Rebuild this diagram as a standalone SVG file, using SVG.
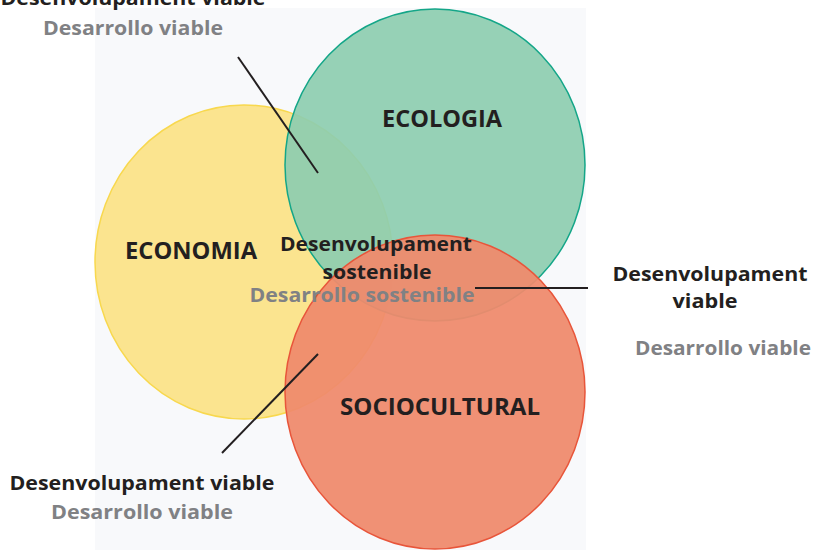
<svg xmlns="http://www.w3.org/2000/svg" width="816" height="550" viewBox="0 0 816 550">
<style>
.t{font-family:"Open Sans","Liberation Sans",sans-serif;font-weight:bold;text-anchor:middle}
.k{fill:#231f20}
.g{fill:#808184}
.big{font-size:24px}
.sm{font-size:20px}
.ln{stroke:#231f20;stroke-width:2;fill:none}
</style>
<rect x="0" y="0" width="816" height="550" fill="#ffffff"/>
<rect x="95" y="8" width="491" height="542" fill="#f8f9fb"/>
<g id="economia">
<ellipse cx="244" cy="262" rx="149" ry="157" fill="#fbe48f" stroke="#f8d84e" stroke-width="1.5"/>
</g>
<g id="ecologia">
<ellipse cx="435" cy="165" rx="150" ry="156" fill="#8dcdb0" fill-opacity="0.92" stroke="#14a688" stroke-width="1.5"/>
</g>
<g id="sociocultural">
<ellipse cx="435" cy="392" rx="150" ry="157" fill="#ef8a6c" fill-opacity="0.94" stroke="#e8553a" stroke-width="1.5"/>
</g>
<g id="connectors">
<line class="ln" x1="238" y1="57" x2="318" y2="173"/>
<line class="ln" x1="318" y1="354" x2="222" y2="453"/>
<line class="ln" x1="475" y1="288" x2="588" y2="288"/>
</g>
<g id="labels">
<text class="t k big" x="442" y="127" textLength="120" lengthAdjust="spacingAndGlyphs">ECOLOGIA</text>
<text class="t k big" x="191" y="259" textLength="132" lengthAdjust="spacingAndGlyphs">ECONOMIA</text>
<text class="t k big" x="440" y="415" textLength="200" lengthAdjust="spacingAndGlyphs">SOCIOCULTURAL</text>
</g>
<g id="center">
<text class="t k sm" x="376" y="251" textLength="192" lengthAdjust="spacingAndGlyphs">Desenvolupament</text>
<text class="t k sm" x="377" y="279" textLength="109" lengthAdjust="spacingAndGlyphs">sostenible</text>
<text class="t g sm" x="362" y="302" textLength="225" lengthAdjust="spacingAndGlyphs">Desarrollo sostenible</text>
</g>
<g id="top-left">
<text class="t k sm" x="133" y="5" textLength="265" lengthAdjust="spacingAndGlyphs">Desenvolupament viable</text>
<text class="t g sm" x="133" y="35" textLength="180" lengthAdjust="spacingAndGlyphs">Desarrollo viable</text>
</g>
<g id="right">
<text class="t k sm" x="710" y="281" textLength="195" lengthAdjust="spacingAndGlyphs">Desenvolupament</text>
<text class="t k sm" x="705" y="308" textLength="65" lengthAdjust="spacingAndGlyphs">viable</text>
<text class="t g sm" x="723" y="355" textLength="176" lengthAdjust="spacingAndGlyphs">Desarrollo viable</text>
</g>
<g id="bottom-left">
<text class="t k sm" x="142" y="490" textLength="265" lengthAdjust="spacingAndGlyphs">Desenvolupament viable</text>
<text class="t g sm" x="142" y="519" textLength="182" lengthAdjust="spacingAndGlyphs">Desarrollo viable</text>
</g>
</svg>
